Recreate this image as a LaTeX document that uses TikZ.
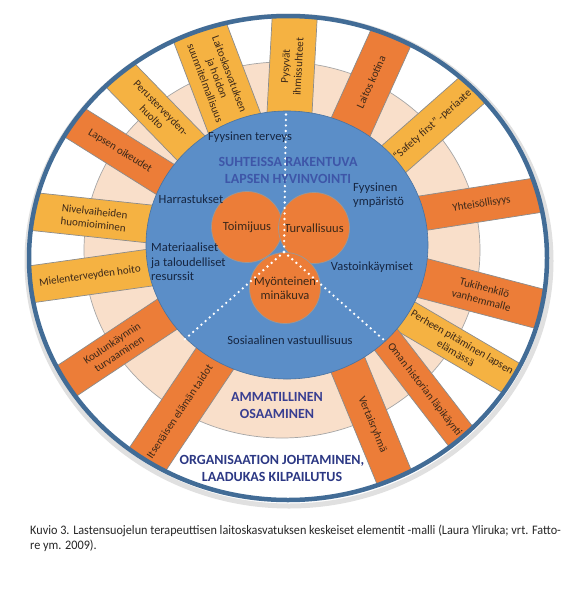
\documentclass[tikz,border=0pt]{standalone}
\usepackage{fontspec}
\setmainfont{Carlito}
\newfontfamily\capfont[FakeStretch=0.94]{Carlito}
\usepackage{tikz}
\definecolor{discblue}{RGB}{91,142,200}
\definecolor{spokeorange}{RGB}{236,125,56}
\definecolor{spokegold}{RGB}{245,178,66}
\definecolor{ringpeach}{RGB}{249,223,202}
\definecolor{rimblue}{RGB}{66,108,150}
\definecolor{headblue}{RGB}{62,86,168}
\definecolor{skillblue}{RGB}{56,62,145}
\definecolor{orgblue}{RGB}{44,56,132}
\definecolor{labelnavy}{RGB}{22,38,66}
\definecolor{spokeink}{RGB}{60,40,25}

\begin{document}
\begin{tikzpicture}[x=1pt, y=-1pt,
    spokebox/.style={draw=black!45, line width=0.7pt},
    spoketext/.style={font=\fontsize{11}{13}\selectfont, text=spokeink, align=center, inner sep=0pt},
    innerlabel/.style={font=\fontsize{12.5}{14.5}\selectfont, text=labelnavy, inner sep=0pt},
    heading/.style={font=\fontsize{14}{17}\selectfont\bfseries, align=center, inner sep=0pt},
    hubdisc/.style={circle, fill=spokeorange, draw=black!40, line width=0.7pt, minimum size=71pt, inner sep=0pt,
      font=\fontsize{12.5}{14.5}\selectfont, text=spokeink, align=center},
    dotline/.style={white, line width=2.6pt, line cap=round, dash pattern=on 0pt off 5.5pt}]
  \fill[white] (0,0) rectangle (585,589);
  \useasboundingbox (0,0) rectangle (585,589);

  % outer disc and peach ring
  \draw[black!12, line width=5pt] (289,261) ellipse [x radius=262, y radius=245];
  \fill[white] (288,258) ellipse [x radius=259, y radius=242];
  \filldraw[fill=ringpeach, draw=black!35, line width=0.7pt] (282,250) ellipse [x radius=198, y radius=188];

  % spokes
  \begin{scope}
    \clip (288,258) ellipse [x radius=259, y radius=242];
    \foreach \ang/\ix/\iy/\len/\wd/\col in {86.9/289.5/113/98/45/spokegold, 65.7/352/124/97/43/spokeorange,
        41.35/395/158/105/36/spokegold, 8.9/424/213/121/35/spokeorange, -14.7/426/279/123/40/spokeorange,
        -30.4/407/317/126/34/spokegold, -52.3/387/341/128/31/spokeorange, -67.6/350/370/123/37/spokeorange,
        -123.8/212/363/122/43/spokeorange, -146.4/163/317/119/36/spokeorange, 188/147/268/120/37/spokegold,
        173.9/150/224/118/38/spokegold, 147.9/163/178/107/35/spokeorange, 134.2/191/148/104/37/spokegold,
        110.8/234/122/98/56/spokegold}
      \draw[spokebox, fill=\col, shift={(\ix,\iy)}, rotate=\ang] (-25,-\wd/2) rectangle (\len,\wd/2);
  \end{scope}

  \node[spoketext, rotate=86.9] (pysyvat) at (292,66.5) {Pysyvät\\ihmissuhteet};
  \node[spoketext, rotate=65.7] (kotina) at (371,82) {Laitos kotina};
  \node[spoketext, rotate=41.35] (safety) at (432.5,125) {“Safety first” -periaate};
  \node[spoketext, rotate=8.9] (yhteis) at (481.5,204) {Yhteisöllisyys};
  \node[spoketext, rotate=-14.7] (tuki) at (483,294) {Tukihenkilö\\vanhemmalle};
  \node[spoketext, rotate=-30.4] (perhe) at (459,347.5) {Perheen pitäminen lapsen\\elämässä};
  \node[spoketext, rotate=-52.3] (historia) at (424.5,389.5) {Oman historian läpikäynti};
  \node[spoketext, rotate=-67.6] (vertais) at (372.5,424.5) {Vertaisryhmä};
  \node[spoketext, rotate=56.2] (itsenainen) at (179.5,411.5) {Itsenäisen elämän taidot};
  \node[spoketext, rotate=33.6] (koulu) at (115.5,348.5) {Koulunkäynnin\\turvaaminen};
  \node[spoketext, rotate=8] (mieli) at (90,276) {Mielenterveyden hoito};
  \node[spoketext, rotate=-6.1] (nivel) at (94,218) {Nivelvaiheiden\\huomioiminen};
  \node[spoketext, rotate=-32.1] (oikeudet) at (120,151) {Lapsen oikeudet};
  \node[spoketext, rotate=-45.8] (perus) at (156.5,112.5) {Perusterveyden-\\huolto};
  \node[spoketext, rotate=-69.2] (suunnitelma) at (217.5,78.5) {Laitoskasvatuksen\\ja hoidon\\suunnitelmallisuus};

  % blue disc with the three circles
  \filldraw[fill=discblue, draw=discblue!80!black, line width=0.6pt] (287,245) ellipse [x radius=141, y radius=134];
  \node[hubdisc] (toimijuus) at (247,227) {Toimijuus};
  \node[hubdisc] (turva) at (314,228) {Turvallisuus};
  \node[hubdisc] (minakuva) at (285,288) {Myönteinen\\minäkuva};

  \coordinate (hub) at (284,252);
  \coordinate (topEnd) at (286,113);
  \coordinate (leftEnd) at (184,340);
  \coordinate (rightEnd) at (384,340);
  \draw[dotline] (hub) -- (topEnd);
  \draw[dotline] (hub) -- (leftEnd);
  \draw[dotline] (hub) -- (rightEnd);

  \node[innerlabel] (terveys) at (250,137) {Fyysinen terveys};
  \node[heading, text=headblue] (hyvinvointi) at (288,170) {SUHTEISSA RAKENTUVA\\LAPSEN HYVINVOINTI};
  \node[innerlabel, anchor=west, align=left] (ymparisto) at (353,195) {Fyysinen\\ympäristö};
  \node[innerlabel] (harrastukset) at (191,199) {Harrastukset};
  \node[innerlabel, anchor=west, align=left] (resurssit) at (151,262) {Materiaaliset\\ja taloudelliset\\resurssit};
  \node[innerlabel] (vastoin) at (372,267) {Vastoinkäymiset};
  \node[innerlabel] (sosiaalinen) at (290,340) {Sosiaalinen vastuullisuus};

  \node[heading, text=skillblue] (osaaminen) at (277,406) {AMMATILLINEN\\OSAAMINEN};
  \node[heading, text=orgblue] (johtaminen) at (272,468) {ORGANISAATION JOHTAMINEN,\\LAADUKAS KILPAILUTUS};

  % rim
  \draw[rimblue, line width=4.5pt] (288,258) ellipse [x radius=259, y radius=242];

  \node[anchor=north west, align=left, inner sep=0pt, text=black!85,
    font=\capfont\fontsize{13}{14.5}\selectfont] (kuvio) at (30,525)
    {Kuvio 3. Lastensuojelun terapeuttisen laitoskasvatuksen keskeiset elementit -malli (Laura Yliruka; vrt. Fatto-\\re ym. 2009).};
\end{tikzpicture}
\end{document}
